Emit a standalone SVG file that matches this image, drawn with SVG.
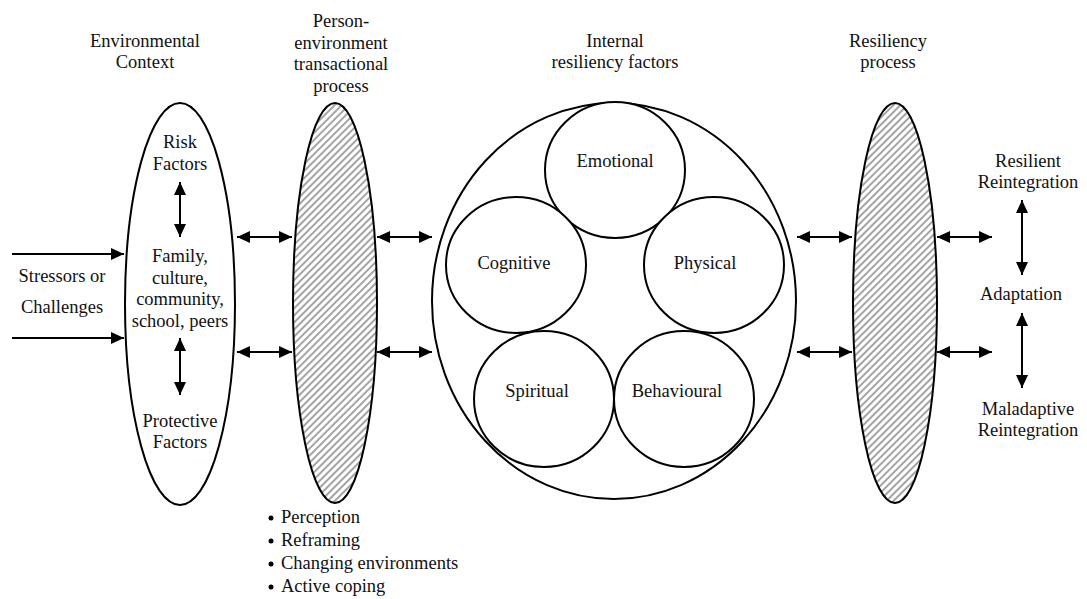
<svg xmlns="http://www.w3.org/2000/svg" width="1087" height="599" viewBox="0 0 1087 599">
<defs>
<style>
text{font-family:"Liberation Serif","Times New Roman",serif;font-size:18.5px;fill:#111;text-anchor:middle}
.sh{fill:#fff;stroke:#000;stroke-width:2}
.hatch{fill:url(#hp);stroke:#000;stroke-width:2}
.ln{stroke:#000;stroke-width:2;fill:none}
.bl{text-anchor:start}
</style>
<pattern id="hp" patternUnits="userSpaceOnUse" width="5" height="5" patternTransform="rotate(45)">
<rect width="5" height="5" fill="#fff"/>
<line x1="1" y1="0" x2="1" y2="5" stroke="#9a9a9a" stroke-width="1.8"/>
</pattern>
<marker id="ah" markerUnits="userSpaceOnUse" markerWidth="14" markerHeight="12" refX="13" refY="6" orient="auto-start-reverse">
<path d="M0,0 L13,6 L0,12 z" fill="#000"/>
</marker>
</defs>
<rect width="1087" height="599" fill="#fff"/>

<g id="titles">
<text x="145" y="47">Environmental</text>
<text x="145" y="68">Context</text>
<text x="341" y="27">Person-</text>
<text x="341" y="49">environment</text>
<text x="341" y="70">transactional</text>
<text x="341" y="92">process</text>
<text x="615" y="47">Internal</text>
<text x="615" y="68">resiliency factors</text>
<text x="888" y="47">Resiliency</text>
<text x="888" y="68">process</text>
</g>

<g id="stressors">
<text x="62" y="282">Stressors or</text>
<text x="62" y="313">Challenges</text>
</g>

<g id="env-context">
<ellipse class="sh" cx="180" cy="304" rx="55" ry="201"/>
<text x="180" y="148">Risk</text>
<text x="180" y="170">Factors</text>
<text x="180" y="262">Family,</text>
<text x="180" y="284">culture,</text>
<text x="180" y="305">community,</text>
<text x="180" y="327">school, peers</text>
<text x="180" y="427">Protective</text>
<text x="180" y="448">Factors</text>
</g>

<g id="person-env">
<ellipse class="hatch" cx="335" cy="303" rx="42" ry="200"/>
</g>

<g id="coping-list">
<circle cx="271" cy="518" r="2.5" fill="#000"/>
<text class="bl" x="281" y="523">Perception</text>
<circle cx="271" cy="541" r="2.5" fill="#000"/>
<text class="bl" x="281" y="546">Reframing</text>
<circle cx="271" cy="564" r="2.5" fill="#000"/>
<text class="bl" x="281" y="569">Changing environments</text>
<circle cx="271" cy="587" r="2.5" fill="#000"/>
<text class="bl" x="281" y="592">Active coping</text>
</g>

<g id="internal">
<ellipse class="sh" cx="614" cy="301" rx="182" ry="198"/>
</g>
<g id="emotional">
<ellipse class="sh" cx="615" cy="170" rx="70" ry="68"/>
<text x="615" y="167">Emotional</text>
</g>
<g id="cognitive">
<ellipse class="sh" cx="516" cy="265" rx="70" ry="68"/>
<text x="514" y="269">Cognitive</text>
</g>
<g id="physical">
<ellipse class="sh" cx="714" cy="265" rx="70" ry="68"/>
<text x="705" y="269">Physical</text>
</g>
<g id="spiritual">
<ellipse class="sh" cx="544" cy="399" rx="70" ry="68"/>
<text x="537" y="397">Spiritual</text>
</g>
<g id="behavioural">
<ellipse class="sh" cx="684" cy="399" rx="70" ry="68"/>
<text x="677" y="397">Behavioural</text>
</g>

<g id="resiliency-process">
<ellipse class="hatch" cx="895" cy="303" rx="42" ry="200"/>
</g>

<g id="outcomes">
<text x="1028" y="167">Resilient</text>
<text x="1028" y="188">Reintegration</text>
<text x="1021" y="300">Adaptation</text>
<text x="1028" y="415">Maladaptive</text>
<text x="1028" y="436">Reintegration</text>
</g>

<g id="connectors">
<line class="ln" x1="12" y1="254" x2="124" y2="254" marker-end="url(#ah)"/>
<line class="ln" x1="12" y1="338" x2="124" y2="338" marker-end="url(#ah)"/>
<line class="ln" x1="180" y1="182" x2="180" y2="237" marker-start="url(#ah)" marker-end="url(#ah)"/>
<line class="ln" x1="180" y1="338" x2="180" y2="395" marker-start="url(#ah)" marker-end="url(#ah)"/>
<line class="ln" x1="237" y1="237" x2="292" y2="237" marker-start="url(#ah)" marker-end="url(#ah)"/>
<line class="ln" x1="237" y1="352" x2="292" y2="352" marker-start="url(#ah)" marker-end="url(#ah)"/>
<line class="ln" x1="377" y1="237" x2="432" y2="237" marker-start="url(#ah)" marker-end="url(#ah)"/>
<line class="ln" x1="377" y1="352" x2="432" y2="352" marker-start="url(#ah)" marker-end="url(#ah)"/>
<line class="ln" x1="797" y1="237" x2="852" y2="237" marker-start="url(#ah)" marker-end="url(#ah)"/>
<line class="ln" x1="797" y1="352" x2="852" y2="352" marker-start="url(#ah)" marker-end="url(#ah)"/>
<line class="ln" x1="937" y1="237" x2="992" y2="237" marker-start="url(#ah)" marker-end="url(#ah)"/>
<line class="ln" x1="937" y1="352" x2="992" y2="352" marker-start="url(#ah)" marker-end="url(#ah)"/>
<line class="ln" x1="1022" y1="200" x2="1022" y2="275" marker-start="url(#ah)" marker-end="url(#ah)"/>
<line class="ln" x1="1022" y1="313" x2="1022" y2="388" marker-start="url(#ah)" marker-end="url(#ah)"/>
</g>
</svg>
